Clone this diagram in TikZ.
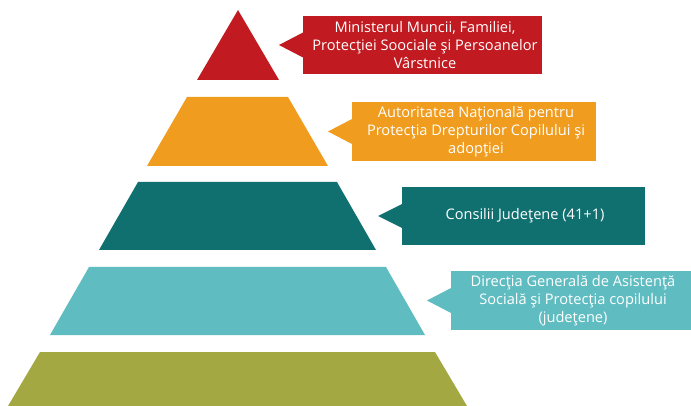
\documentclass[tikz,border=0pt]{standalone}
\usepackage{fontspec}
\setmainfont{Open Sans}
\definecolor{cred}{HTML}{C11A20}
\definecolor{corange}{HTML}{F09C1F}
\definecolor{cdteal}{HTML}{107070}
\definecolor{clteal}{HTML}{5FBDC1}
\definecolor{colive}{HTML}{A3A842}
\begin{document}
\begin{tikzpicture}[x=1pt,y=-1pt,
  lbl/.style={text=white,align=center,font=\fontsize{14.6}{18}\selectfont,inner sep=0pt}]
\useasboundingbox (0,0) rectangle (691,406);
% pyramid levels
\fill[cred] (238,10) -- (279,80) -- (197,80) -- cycle;
\fill[corange] (187,97) -- (288,97) -- (328,166) -- (147,166) -- cycle;
\fill[cdteal] (138,182) -- (337,182) -- (376,250) -- (99,250) -- cycle;
\fill[clteal] (89,267) -- (386,267) -- (425,335) -- (50,335) -- cycle;
\fill[colive] (40,352) -- (435,352) -- (467,406) -- (8,406) -- cycle;
% callouts
\fill[cred] (303,16) rectangle (542,74);
\fill[cred] (303,32.5) -- (279,45) -- (303,57.5) -- cycle;
\node[lbl] (t1) at (425,45) {Ministerul Muncii, Familiei,\\Protecţiei Soociale şi Persoanelor\\Vârstnice};
\fill[corange] (352,102) rectangle (596,161);
\fill[corange] (352,119) -- (328,131.5) -- (352,144) -- cycle;
\node[lbl] (t2) at (476,131.5) {Autoritatea Naţională pentru\\Protecţia Drepturilor Copilului şi\\adopţiei};
\fill[cdteal] (402,187) rectangle (645,245);
\fill[cdteal] (402,204) -- (378,216) -- (402,228) -- cycle;
\node[lbl] (t3) at (525,216) {Consilii Judeţene (41+1)};
\fill[clteal] (451,271) rectangle (691,330);
\fill[clteal] (451,288) -- (427,300.5) -- (451,313) -- cycle;
\node[lbl] (t4) at (573,300.5) {Direcţia Generală de Asistenţă\\Socială şi Protecţia copilului\\(judeţene)};
\end{tikzpicture}
\end{document}
